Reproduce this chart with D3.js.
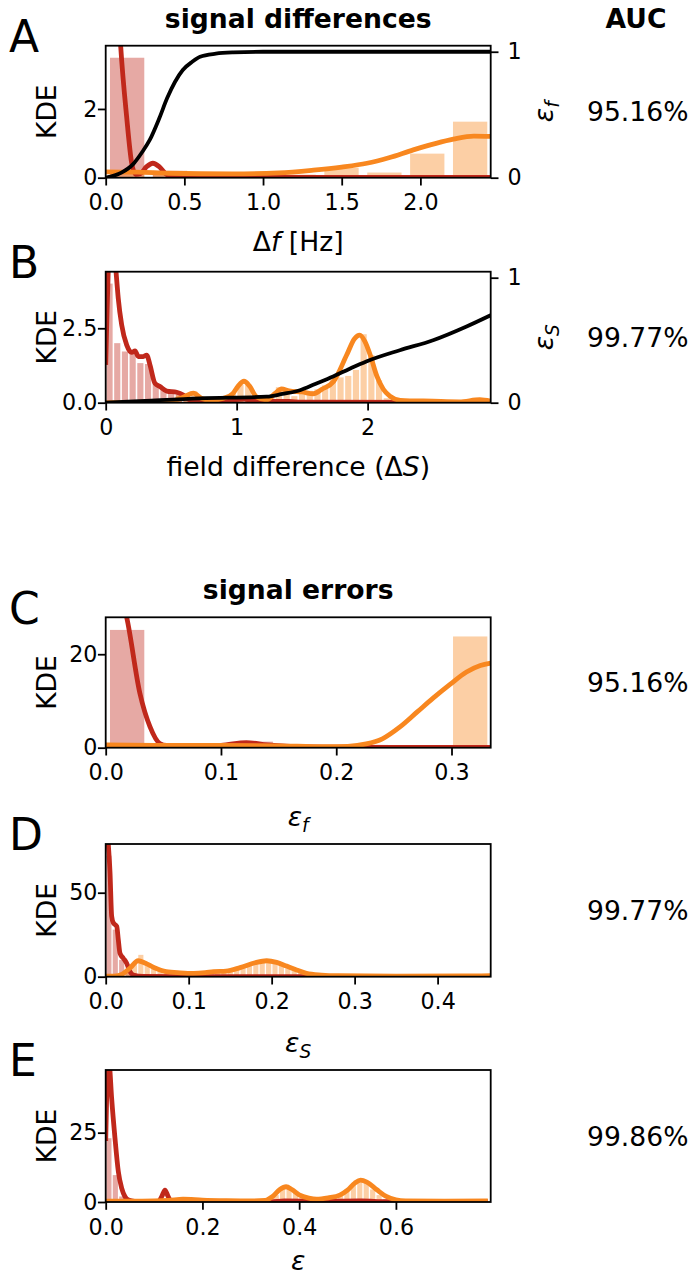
<!DOCTYPE html>
<html>
<head>
<meta charset="utf-8">
<script src="https://cdn.jsdelivr.net/npm/d3@7"></script>
<style>
  body { margin: 0; background: #fff; }
  text { font-family: "DejaVu Sans", sans-serif; }
</style>
</head>
<body>
<svg id="fig"></svg>
<script>
// ---- data ----
// histogram heights per bin (bins start at 0), KDE curves as [x, density], CDF as [x, eps]

const aBinWidth = 0.2725;
const aRedHist = [3.49, 0.2, 0.02, 0, 0, 0, 0, 0, 0];
const aOrangeHist = [0.22, 0.1, 0.07, 0.05, 0.09, 0.29, 0.15, 0.70, 1.63];
const aRedKde = [[0, 12], [0.05, 8], [0.095, 3.84], [0.133, 1.78], [0.165, 0.43], [0.19, 0.1],
  [0.22, 0.12], [0.26, 0.32], [0.3, 0.42], [0.34, 0.32], [0.38, 0.12], [0.43, 0.03], [0.5, 0.01], [2.45, 0.01]];
const aOrangeKde = [[0, 0.17], [0.2, 0.16], [0.4, 0.13], [0.8, 0.11], [1.1, 0.14], [1.32, 0.22], [1.5, 0.31],
  [1.66, 0.42], [1.8, 0.58], [1.955, 0.81], [2.1, 1.0], [2.21, 1.12], [2.34, 1.21], [2.45, 1.2]];
const aCdf = [[0, 0], [0.1, 0.04], [0.176, 0.11], [0.23, 0.2], [0.28, 0.30], [0.34, 0.47], [0.39, 0.63],
  [0.44, 0.76], [0.49, 0.855], [0.55, 0.92], [0.6, 0.96], [0.7, 0.985], [0.81, 0.995], [1.0, 1.0], [2.45, 1.0]];

const bBinWidth = 0.0588;
const bRedHist = [4.0, 2.0, 1.72, 1.65, 1.33, 1.3, 0.66, 0.45, 0.4, 0.33, 0.2, 0.1, 0.08, 0.06, 0.05, 0.05,
  0.08, 0.1, 0.06, 0.03, 0.03, 0.02, 0.02, 0.01];
const bOrangeHist = [0, 0, 0, 0.02, 0.03, 0.05, 0.05, 0.1, 0.15, 0.25, 0.3, 0.38, 0.15, 0.08, 0.08, 0.2,
  0.33, 0.6, 0.62, 0.25, 0.08, 0.2, 0.52, 0.4, 0.22, 0.3, 0.4, 0.45, 0.58, 0.8, 0.85, 0.9, 1.1, 2.3, 1.6,
  0.75, 0.15, 0.06, 0.04, 0.04, 0.04, 0.04, 0.04, 0.04, 0.04, 0.04, 0.04, 0.06, 0.1, 0.04];
const bRedKde = [[0, 1.27], [0.01, 3], [0.02, 4.5], [0.04, 6], [0.06, 5.5], [0.079, 4.4], [0.096, 3.5],
  [0.122, 2.61], [0.16, 1.94], [0.198, 1.69], [0.224, 1.74], [0.249, 1.55], [0.287, 1.55], [0.313, 1.6],
  [0.338, 1.27], [0.376, 0.65], [0.415, 0.54], [0.466, 0.39], [0.542, 0.35], [0.593, 0.26], [0.644, 0.09],
  [0.75, 0.05], [0.9, 0.05], [1.05, 0.12], [1.15, 0.05], [1.4, 0.04], [1.5, 0.02], [2.94, 0.01]];
const bOrangeKde = [[0, 0], [0.3, 0.02], [0.5, 0.05], [0.6, 0.2], [0.669, 0.32], [0.73, 0.15], [0.8, 0.08],
  [0.9, 0.15], [0.97, 0.3], [1.01, 0.55], [1.056, 0.72], [1.1, 0.55], [1.15, 0.2], [1.229, 0.09], [1.29, 0.3],
  [1.343, 0.46], [1.4, 0.4], [1.5, 0.36], [1.585, 0.3], [1.65, 0.45], [1.74, 0.71], [1.84, 1.6], [1.9, 2.15],
  [1.94, 2.27], [1.98, 2.05], [2.02, 1.6], [2.07, 0.9], [2.12, 0.45], [2.17, 0.22], [2.25, 0.08], [2.5, 0.05],
  [2.7, 0.03], [2.857, 0.1], [2.94, 0.05]];
const bCdf = [[0, 0], [0.3, 0.015], [0.72, 0.035], [1.229, 0.048], [1.35, 0.07], [1.483, 0.10], [1.6, 0.15],
  [1.737, 0.21], [1.86, 0.27], [1.99, 0.33], [2.246, 0.42], [2.5, 0.50], [2.756, 0.61], [2.94, 0.70]];

const cBinWidth = 0.0372;
const cRedHist = [25.2, 0, 0.3, 1.3, 0, 0, 0, 0, 0.1];
const cOrangeHist = [0.8, 0.6, 0.6, 1.0, 0.3, 0.2, 0.3, 0.5, 23.8];
const cRedKde = [[0, 45], [0.01, 35], [0.0182, 27.9], [0.0297, 11.6], [0.0384, 4.5], [0.047, 0.9], [0.053, 0.5],
  [0.08, 0.4], [0.1, 0.5], [0.122, 1.1], [0.14, 0.6], [0.16, 0.3], [0.2, 0.1], [0.25, 0.05], [0.334, 0.05]];
const cOrangeKde = [[0, 0.6], [0.05, 0.5], [0.1, 0.5], [0.15, 0.4], [0.19, 0.2], [0.21, 0.3], [0.226, 0.8],
  [0.24, 1.9], [0.255, 4.4], [0.27, 7.6], [0.284, 10.6], [0.299, 13.6], [0.313, 16.2], [0.325, 17.6], [0.334, 18.1]];

const dBinWidth = 0.0077;
const dRedHist = [72, 28, 10, 4, 1.5, 0.6, 0.3, 0.2, 0.1];
const dOrangeHist = [0.5, 1, 2, 4, 8, 13, 8, 5, 4, 3, 2.5, 2.2, 2, 2, 2.2, 2.5, 3, 3.2, 3.3, 3.5, 4.2, 5.5,
  7, 8.5, 9.5, 10, 9, 7.5, 6, 4.5, 3, 2, 1.2, 0.8, 0.5, 0.5, 0.5, 0.5, 0.5, 0.5, 0.5, 0.5, 0.5, 0.5, 0.5,
  0.5, 0.5, 0.5, 0.5, 0.5, 0.5, 0.5, 0.5, 0.5, 0.5, 0.5, 0.5, 0.5, 0.5, 0.5];
const dRedKde = [[0, 95], [0.0031, 79], [0.0052, 62], [0.0072, 36], [0.0092, 32], [0.0133, 30], [0.0152, 22],
  [0.0172, 14], [0.0212, 11], [0.0253, 8], [0.0293, 3], [0.0333, 1], [0.045, 0.2], [0.1, 0.1], [0.464, 0.1]];
const dOrangeKde = [[0, 0.3], [0.01, 0.4], [0.02, 1.5], [0.03, 5.5], [0.039, 9.5], [0.048, 8], [0.058, 5.5],
  [0.073, 3], [0.09, 2.3], [0.106, 2.0], [0.12, 2.4], [0.13, 3], [0.145, 3.3], [0.162, 5.4], [0.18, 8.3],
  [0.194, 9.5], [0.206, 8.5], [0.218, 6.3], [0.23, 4], [0.242, 2], [0.26, 1], [0.28, 0.6], [0.35, 0.4],
  [0.45, 0.5], [0.464, 0.6]];

const eBinWidth = 0.0133;
const eRedHist = [23, 9.7, 2, 0.5, 0.2, 0, 0, 0, 0, 1.2];
const eOrangeHist = [0.3, 0.3, 0.3, 0.3, 0.3, 0.3, 0.3, 0.3, 0.3, 0.3, 0.4, 0.8, 1, 0.8, 0.6, 0.4, 0.3, 0.3,
  0.3, 0.3, 0.3, 0.3, 0.3, 0.3, 0.3, 0.5, 2.5, 5, 5.5, 3.5, 1.5, 1, 1, 1.2, 1.5, 2, 3, 4.5, 6.5, 8, 7, 4.5,
  2.5, 1, 0.4, 0.3, 0.3, 0.3, 0.3, 0.3, 0.3, 0.3, 0.3, 0.3, 0.3, 0.3, 0.3, 0.3, 0.3, 0.3];
const eRedKde = [[0, 22], [0.002, 38], [0.0045, 52], [0.0075, 50], [0.0123, 37.4], [0.0192, 23], [0.0261, 11],
  [0.033, 5], [0.040, 1.9], [0.047, 0.7], [0.06, 0.2], [0.1, 0.1], [0.11, 0.3], [0.116, 2], [0.1226, 4.3],
  [0.129, 2], [0.135, 0.3], [0.15, 0.1], [0.34, 0.1], [0.37, 0.4], [0.45, 0.3], [0.53, 0.4], [0.58, 0.1], [0.79, 0.1]];
const eOrangeKde = [[0, 0.3], [0.05, 0.3], [0.1, 0.4], [0.13, 0.6], [0.16, 1.0], [0.2, 0.7], [0.25, 0.5],
  [0.3, 0.4], [0.33, 0.6], [0.345, 2], [0.36, 4.5], [0.373, 5.5], [0.385, 4.5], [0.4, 2.6], [0.42, 1.4],
  [0.436, 1.0], [0.46, 1.5], [0.484, 2.5], [0.5, 4.3], [0.515, 6.8], [0.527, 7.9], [0.54, 7.2], [0.56, 4.5],
  [0.58, 2], [0.6, 0.8], [0.62, 0.4], [0.7, 0.3], [0.79, 0.4]];

const aucValues = ['95.16%', '99.77%', '95.16%', '99.77%', '99.86%'];

// ---- styling ----
const RED = '#c0281b', ORANGE = '#f8871f';
const FS = 22.2;          // tick labels (10pt)
const FL = 26.6;          // axis labels, titles (12pt)
const TICK = 7.8, LW = 1.8;

const svg = d3.select('#fig').attr('width', 692).attr('height', 1276);
const X0 = 105.7, X1 = 490.7;

const panels = [
  {letter: 'A', top: 45.7, bottom: 177.7, xmax: 2.447, ymax: 3.84, binW: aBinWidth, labelY: 251,
   red: aRedHist, orange: aOrangeHist, redKde: aRedKde, orangeKde: aOrangeKde, cdf: aCdf, cdfSub: 'f',
   xticks: [0, 0.5, 1, 1.5, 2], xfmt: '.1f', yticks: [0, 2], yfmt: 'd',
   xlabel: [{t: 'Δ'}, {t: 'f', it: true}, {t: ' [Hz]'}]},
  {letter: 'B', top: 271.7, bottom: 402.7, xmax: 2.94, ymax: 4.40, binW: bBinWidth, labelY: 476,
   red: bRedHist, orange: bOrangeHist, redKde: bRedKde, orangeKde: bOrangeKde, cdf: bCdf, cdfSub: 'S',
   xticks: [0, 1, 2], xfmt: 'd', yticks: [0, 2.5], yfmt: '.1f',
   xlabel: [{t: 'field difference (Δ'}, {t: 'S', it: true}, {t: ')'}]},
  {letter: 'C', top: 617.3, bottom: 747.7, xmax: 0.334, ymax: 27.9, binW: cBinWidth, labelY: 826,
   red: cRedHist, orange: cOrangeHist, redKde: cRedKde, orangeKde: cOrangeKde,
   xticks: [0, 0.1, 0.2, 0.3], xfmt: '.1f', yticks: [0, 20], yfmt: 'd',
   xlabel: [{t: 'ε', it: true}, {t: 'f', it: true, sub: true}]},
  {letter: 'D', top: 844, bottom: 976.7, xmax: 0.464, ymax: 79, binW: dBinWidth, labelY: 1052,
   red: dRedHist, orange: dOrangeHist, redKde: dRedKde, orangeKde: dOrangeKde,
   xticks: [0, 0.1, 0.2, 0.3, 0.4], xfmt: '.1f', yticks: [0, 50], yfmt: 'd',
   xlabel: [{t: 'ε', it: true}, {t: 'S', it: true, sub: true}]},
  {letter: 'E', top: 1070, bottom: 1202, xmax: 0.796, ymax: 47.6, binW: eBinWidth, labelY: 1270,
   red: eRedHist, orange: eOrangeHist, redKde: eRedKde, orangeKde: eOrangeKde,
   xticks: [0, 0.2, 0.4, 0.6], xfmt: '.1f', yticks: [0, 25], yfmt: 'd',
   xlabel: [{t: 'ε', it: true}]}
];

function mathText(sel, parts, fs) {
  let shifted = false;
  parts.forEach(p => {
    const ts = sel.append('tspan').text(p.t);
    if (p.it) ts.attr('font-style', 'italic');
    if (p.sub) { ts.attr('font-size', fs * 0.7).attr('dy', fs * 0.22); shifted = true; }
    else if (shifted) { ts.attr('dy', -fs * 0.22); shifted = false; }
  });
}

function styleAxis(g) {
  g.select('.domain').remove();
  g.selectAll('.tick line').attr('stroke', '#000').attr('stroke-width', LW);
  g.selectAll('.tick text').attr('font-size', FS).attr('fill', '#000')
    .attr('font-family', '"DejaVu Sans", sans-serif');
}

panels.forEach((p, k) => {
  const x = d3.scaleLinear().domain([0, p.xmax]).range([X0, X1]);
  const y = d3.scaleLinear().domain([0, p.ymax]).range([p.bottom, p.top]);
  const g = svg.append('g');
  const mid = (p.top + p.bottom) / 2;

  const clipId = 'clip' + p.letter;
  svg.append('clipPath').attr('id', clipId).append('rect')
    .attr('x', X0).attr('y', p.top).attr('width', X1 - X0).attr('height', p.bottom - p.top);
  const plot = g.append('g').attr('clip-path', `url(#${clipId})`);

  // histogram bars (shrink 0.8)
  [[p.red, RED], [p.orange, ORANGE]].forEach(([hist, col]) => {
    plot.append('g').selectAll('rect')
      .data(hist.map((h, i) => ({i, h})).filter(d => d.h > 0))
      .join('rect')
      .attr('x', d => x((d.i + 0.1) * p.binW))
      .attr('width', d => x(0.8 * p.binW) - x(0))
      .attr('y', d => y(d.h))
      .attr('height', d => y(0) - y(d.h))
      .attr('fill', col).attr('fill-opacity', 0.4);
  });

  const line = d3.line().x(d => x(d[0])).y(d => y(d[1])).curve(d3.curveMonotoneX);
  plot.append('path').attr('d', line(p.redKde)).attr('fill', 'none')
    .attr('stroke', RED).attr('stroke-width', 4.8).attr('stroke-linejoin', 'round');
  plot.append('path').attr('d', line(p.orangeKde)).attr('fill', 'none')
    .attr('stroke', ORANGE).attr('stroke-width', 4.8).attr('stroke-linejoin', 'round');

  let y2 = null;
  if (p.cdf) {
    y2 = d3.scaleLinear().domain([0, 1.048]).range([p.bottom, p.top]);
    const cline = d3.line().x(d => x(d[0])).y(d => y2(d[1])).curve(d3.curveMonotoneX);
    plot.append('path').attr('d', cline(p.cdf)).attr('fill', 'none')
      .attr('stroke', '#000').attr('stroke-width', 3.8);
  }

  // frame
  g.append('rect').attr('x', X0).attr('y', p.top).attr('width', X1 - X0).attr('height', p.bottom - p.top)
    .attr('fill', 'none').attr('stroke', '#000').attr('stroke-width', LW);

  g.append('g').attr('transform', `translate(0,${p.bottom})`)
    .call(d3.axisBottom(x).tickValues(p.xticks).tickFormat(d3.format(p.xfmt)).tickSize(TICK).tickPadding(9))
    .call(styleAxis);
  g.append('g').attr('transform', `translate(${X0},0)`)
    .call(d3.axisLeft(y).tickValues(p.yticks).tickFormat(d3.format(p.yfmt)).tickSize(TICK).tickPadding(0.5))
    .call(styleAxis);

  if (y2) {
    g.append('g').attr('transform', `translate(${X1},0)`)
      .call(d3.axisRight(y2).tickValues([0, 1]).tickFormat(d3.format('d')).tickSize(TICK).tickPadding(9))
      .call(styleAxis);
    const rl = g.append('text').attr('font-size', FL)
      .attr('transform', `translate(553,${mid}) rotate(-90)`)
      .attr('text-anchor', 'middle');
    mathText(rl, [{t: 'ε', it: true}, {t: p.cdfSub, it: true, sub: true}], FL);
  }

  // y label
  g.append('text').attr('font-size', FL).attr('text-anchor', 'middle')
    .attr('transform', `translate(56,${mid}) rotate(-90)`).text('KDE');

  // x label
  const xl = g.append('text').attr('font-size', FL).attr('text-anchor', 'middle')
    .attr('x', (X0 + X1) / 2).attr('y', p.labelY);
  mathText(xl, p.xlabel, FL);

  // panel letter
  g.append('text').attr('font-size', 44).attr('x', 9).attr('y', p.top + 6.3).text(p.letter);

  // AUC value
  g.append('text').attr('font-size', FL).attr('x', 587).attr('y', mid + 9.7)
    .text(aucValues[k]);
});

// titles
svg.append('text').attr('font-size', FL).attr('font-weight', 'bold').attr('text-anchor', 'middle')
  .attr('x', (X0 + X1) / 2).attr('y', 28).text('signal differences');
svg.append('text').attr('font-size', FL).attr('font-weight', 'bold').attr('text-anchor', 'middle')
  .attr('x', 636).attr('y', 28).text('AUC');
svg.append('text').attr('font-size', FL).attr('font-weight', 'bold').attr('text-anchor', 'middle')
  .attr('x', (X0 + X1) / 2).attr('y', 599).text('signal errors');
</script>
</body>
</html>
